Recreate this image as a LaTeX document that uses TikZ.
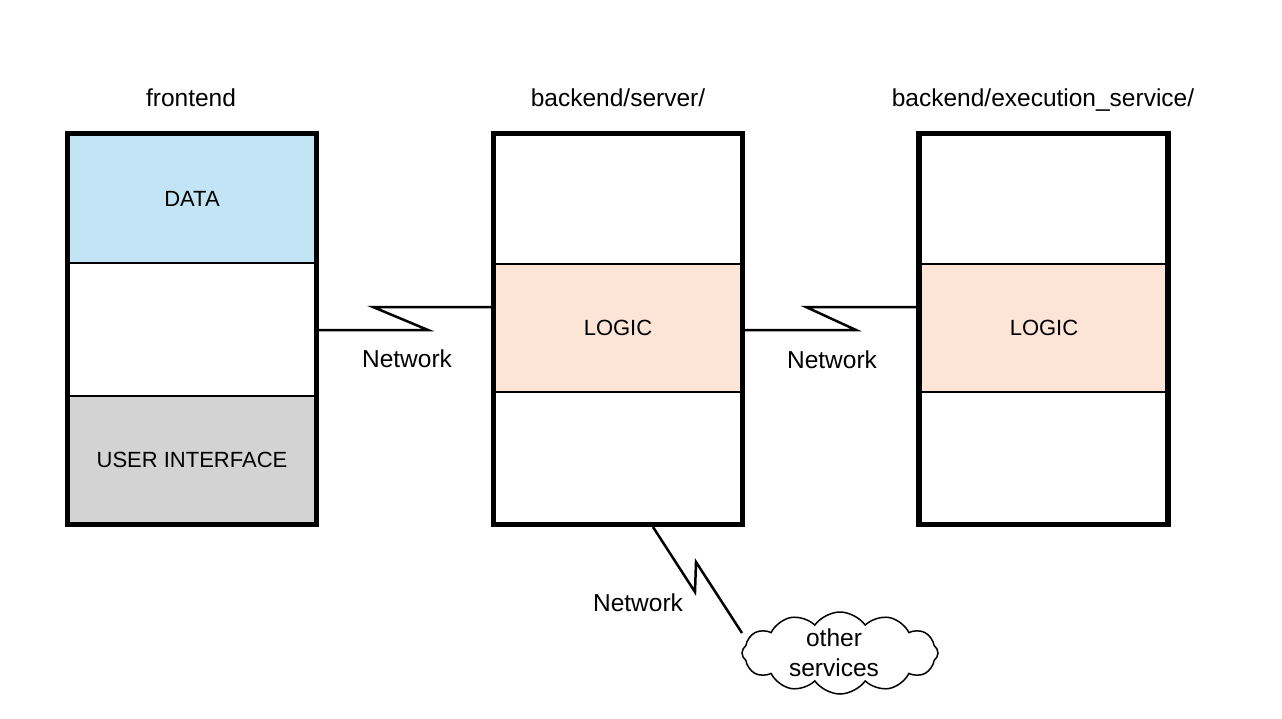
\documentclass[tikz,border=0pt]{standalone}
\usepackage{fontspec}
\setmainfont{Liberation Sans}
\usetikzlibrary{shapes.symbols}
\definecolor{datablue}{HTML}{C2E4F4}
\definecolor{uigray}{HTML}{D3D3D3}
\definecolor{logicpeach}{HTML}{FCE4D6}
\begin{document}
\begin{tikzpicture}[x=1pt,y=-1pt,
  outerbox/.style={draw=black,line width=5.2pt,minimum width=249pt,minimum height=391pt,inner sep=0pt},
  layer/.style={draw=black,line width=1.5pt,inner sep=0pt,font=\fontsize{22}{26}\selectfont},
  lbl/.style={font=\fontsize{24.5}{28}\selectfont,inner sep=0pt,anchor=base},
  conn/.style={draw=black,line width=2.5pt},
]
\useasboundingbox (0,0) rectangle (1282,718);
\fill[white] (0,0) rectangle (1282,718);
% layers
\node[layer,fill=datablue,minimum width=246pt,minimum height=128pt] (data) at (192,199) {DATA};
\node[layer,fill=uigray,minimum width=246pt,minimum height=127pt] (ui) at (192,459.5) {USER INTERFACE};
\node[layer,fill=logicpeach,minimum width=248pt,minimum height=128pt] (logic1) at (618,328) {LOGIC};
\node[layer,fill=logicpeach,minimum width=250pt,minimum height=128pt] (logic2) at (1044,328) {LOGIC};
% outer boxes
\node[outerbox] (fe) at (192,329) {};
\node[outerbox] (srv) at (618,329) {};
\node[outerbox] (exe) at (1043.5,329) {};
% titles
\node[lbl] (tfe) at (191,106) {frontend};
\node[lbl] (tsrv) at (618,106) {backend/server/};
\node[lbl] (texe) at (1043,106) {backend/execution\_service/};
% connector 1
\coordinate (k1a) at (428,330);
\coordinate (k1b) at (373,307);
\draw[conn] (fe.east |- k1a) -- (k1a) -- (k1b) -- (k1b -| srv.west);
\node[lbl] (n1) at (407,367) {Network};
% connector 2
\coordinate (k2a) at (856,330);
\coordinate (k2b) at (806,307);
\draw[conn] (srv.east |- k2a) -- (k2a) -- (k2b) -- (k2b -| exe.west);
\node[lbl] (n2) at (832,368) {Network};
% cloud
\node[cloud,draw=black,line width=1.5pt,cloud puffs=12,cloud puff arc=110,aspect=2.4,
  minimum width=196pt,minimum height=82pt,inner sep=0pt] (cl) at (840,653) {};
\node[align=center,inner sep=0pt,font=\fontsize{24.5}{30}\selectfont] (cltext) at (834,653) {other\\services};
% connector 3
\coordinate (k3s) at (653,527);
\coordinate (k3a) at (695,592);
\coordinate (k3b) at (696,562);
\coordinate (k3e) at (742,633);
\draw[conn] (k3s) -- (k3a) -- (k3b) -- (k3e);
\node[lbl] (n3) at (638,611) {Network};
\end{tikzpicture}
\end{document}
